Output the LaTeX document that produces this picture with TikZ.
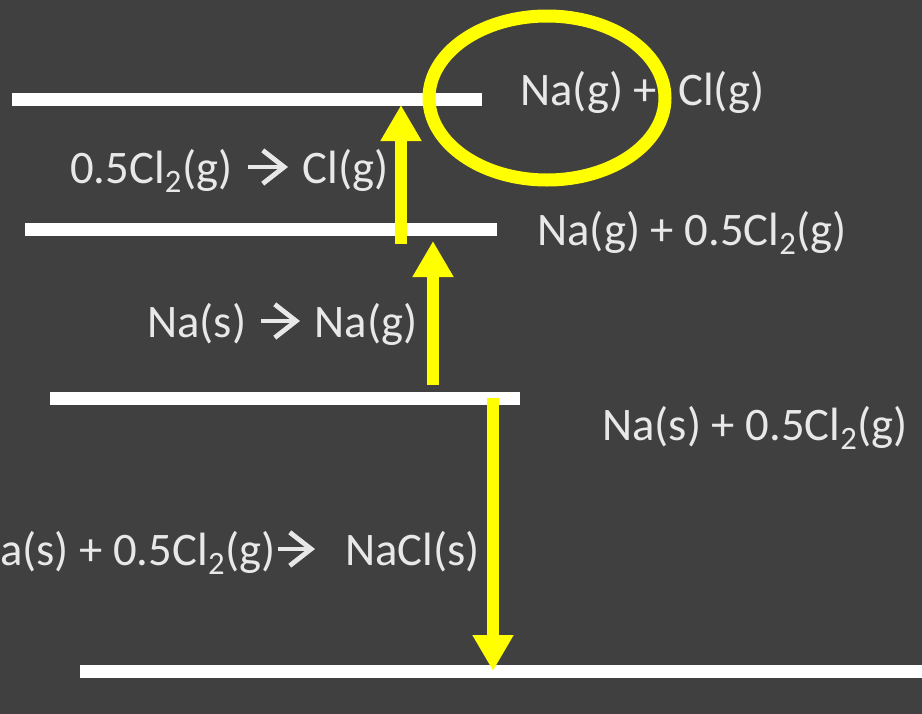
\documentclass[tikz,border=0pt]{standalone}
\usepackage{fontspec}
\setmainfont{Carlito}
\usetikzlibrary{arrows.meta}
\definecolor{slate}{HTML}{404040}
\definecolor{chalk}{HTML}{E8E8E8}
\definecolor{marker}{HTML}{FFFF00}
\begin{document}
\begin{tikzpicture}[x=0.75pt,y=-0.75pt]
		\tikzset{level/.style={white,line width=9.75pt},
			jump/.style={marker,line width=9pt,-{Triangle[width=29pt,length=27pt]}},
			yield/.style={chalk,line width=3.6pt,-{Straight Barb[length=16pt,width=25pt]}},
			tag/.style={chalk,inner sep=0pt,font=\fontsize{35}{42}\selectfont}}
		\fill [slate] (0,0) rectangle (922,714);
		\useasboundingbox (0,0) rectangle (922,714);
		% energy levels
		\coordinate (top w) at (12,99);
		\coordinate (top e) at (482,99);
		\coordinate (atom w) at (25,229);
		\coordinate (atom e) at (497,229);
		\coordinate (elem w) at (50,398);
		\coordinate (elem e) at (520,398);
		\coordinate (salt w) at (80,671);
		\coordinate (salt e) at (930,671);
		\draw [level] (top w) -- (top e);
		\draw [level] (atom w) -- (atom e);
		\draw [level] (elem w) -- (elem e);
		\draw [level] (salt w) -- (salt e);
		% level labels
		\node [tag,anchor=base west] (gas) at (520,105) {Na(g) +\ \ Cl(g)};
		\node [tag,anchor=base west] (half) at (537,245) {Na(g) + 0.5Cl\textsubscript{2}(g)};
		\node [tag,anchor=base west] (std) at (602,440) {Na(s) + 0.5Cl\textsubscript{2}(g)};
		% step labels
		\node [tag,anchor=base west] (cl left) at (70,183) {0.5Cl\textsubscript{2}(g)};
		\node [tag,anchor=base east] (cl right) at (389,183) {Cl(g)};
		\node [tag,anchor=base west] (na left) at (147,337) {Na(s)};
		\node [tag,anchor=base east] (na right) at (418,337) {Na(g)};
		\node [tag,anchor=base east] (f left) at (276,565) {Na(s) + 0.5Cl\textsubscript{2}(g)};
		\node [tag,anchor=base east] (f right) at (480,565) {NaCl(s)};
		\coordinate (cl a) at (248,167);
		\coordinate (cl b) at (288,167);
		\coordinate (na a) at (261,321);
		\coordinate (na b) at (300,321);
		\coordinate (f a) at (278,549);
		\coordinate (f b) at (315,549);
		\draw [yield] (cl a) -- (cl b);
		\draw [yield] (na a) -- (na b);
		\draw [yield] (f a) -- (f b);
		% steps
		\coordinate (cl from) at (401,244);
		\coordinate (cl to) at (401,105);
		\coordinate (na from) at (433,385);
		\coordinate (na to) at (433,241);
		\coordinate (f from) at (493,398);
		\coordinate (f to) at (493,671);
		\draw [jump] (cl from) -- (cl to);
		\draw [jump] (na from) -- (na to);
		\draw [jump] (f from) -- (f to);
		\draw [marker,line width=9.75pt] (547,98) ellipse (118 and 82);
	\end{tikzpicture}
\end{document}
